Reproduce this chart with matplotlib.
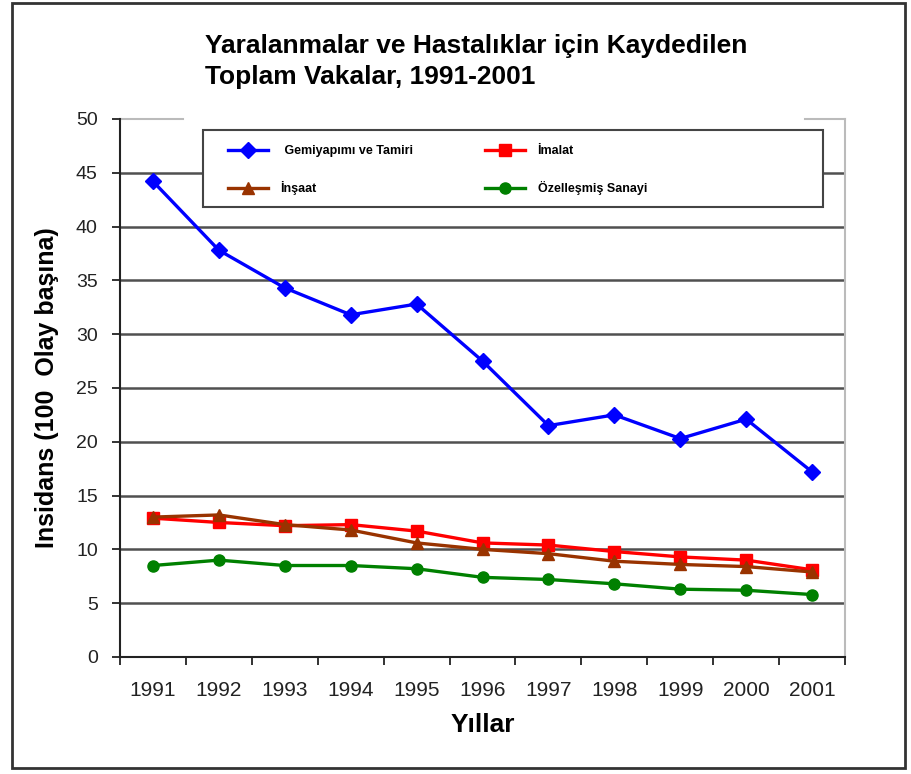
import numpy as np
import matplotlib
matplotlib.use("Agg")
import matplotlib.pyplot as plt
from matplotlib.patches import Rectangle

plt.rcParams['font.family'] = ['Liberation Sans', 'DejaVu Sans']

years = ['1991', '1992', '1993', '1994', '1995', '1996', '1997', '1998', '1999', '2000', '2001']
gemi = [44.2, 37.8, 34.3, 31.8, 32.8, 27.5, 21.5, 22.5, 20.3, 22.1, 17.2]
imalat = [12.9, 12.5, 12.2, 12.3, 11.7, 10.6, 10.4, 9.8, 9.3, 9.0, 8.1]
insaat = [13.0, 13.2, 12.3, 11.8, 10.6, 10.0, 9.6, 8.9, 8.6, 8.4, 7.9]
ozel = [8.5, 9.0, 8.5, 8.5, 8.2, 7.4, 7.2, 6.8, 6.3, 6.2, 5.8]
yticks = [0, 5, 10, 15, 20, 25, 30, 35, 40, 45, 50]

fig = plt.figure(figsize=(9.12, 7.74), dpi=100)
ax = fig.add_axes([0.1316, 0.1512, 0.795, 0.6951])

x = np.arange(len(years))

# grid lines (dark, not at 0 and 50)
ax.hlines(yticks[1:-1], -0.5, len(years) - 0.5, colors='#505050', linewidth=1.8, zorder=1)

l1, = ax.plot(x, gemi, color='#0000FF', marker='D', markersize=8, linewidth=2.4, zorder=3,
              label=' Gemiyapımı ve Tamiri')
l2, = ax.plot(x, imalat, color='#FF0000', marker='s', markersize=8, linewidth=2.4, zorder=3,
              label='İmalat')
l3, = ax.plot(x, insaat, color='#993300', marker='^', markersize=9, linewidth=2.4, zorder=3,
              label='İnşaat')
l4, = ax.plot(x, ozel, color='#008000', marker='o', markersize=8, linewidth=2.4, zorder=3,
              label='Özelleşmiş Sanayi')

ax.set_xlim(-0.5, len(years) - 0.5)
ax.set_ylim(0, 50)
ax.set_yticks(yticks)
ax.tick_params(axis='y', direction='out', length=6, width=1.3, pad=10, labelsize=14, colors='#222222')

ax.set_xticks(np.arange(-0.5, len(years), 1))
ax.set_xticklabels([])
ax.set_xticks(x, minor=True)
ax.set_xticklabels(years, minor=True)
ax.tick_params(axis='x', which='major', direction='out', length=6, width=1.3, colors='#222222')
ax.tick_params(axis='x', which='minor', length=0, pad=17, labelsize=15, colors='#222222')

for s in ['left', 'bottom']:
    ax.spines[s].set_color('#222222')
    ax.spines[s].set_linewidth(1.5)
ax.spines['right'].set_color('#BBBBBB')
ax.spines['right'].set_linewidth(1.5)
ax.spines['top'].set_visible(False)
ax.axhline(50, xmin=0, xmax=0.087, color='#BBBBBB', linewidth=1.5, clip_on=False)
ax.axhline(50, xmin=0.945, xmax=1, color='#BBBBBB', linewidth=1.5, clip_on=False)

ax.set_ylabel('Insidans (100  Olay başına)', fontsize=18, fontweight='bold', labelpad=12)
ax.set_xlabel('Yıllar', fontsize=19, fontweight='bold', labelpad=10)

# legend box
ax.add_patch(Rectangle((0.1145, 0.8364), 0.8552, 0.1432, transform=ax.transAxes,
                       facecolor='white', edgecolor='#444444', linewidth=1.5, zorder=4))
leg = ax.legend(handles=[l1, l3, l2, l4], ncol=2, loc='upper left',
                bbox_to_anchor=(0.149, 0.951),
                prop={'weight': 'bold', 'size': 9},
                frameon=False, handlelength=3.2, handletextpad=1.0,
                columnspacing=5.8, labelspacing=1.9, borderpad=0, borderaxespad=0)
leg.set_zorder(5)

fig.text(0.2248, 0.956, 'Yaralanmalar ve Hastalıklar için Kaydedilen\nToplam Vakalar, 1991-2001',
         fontsize=19, fontweight='bold', ha='left', va='top', linespacing=1.35)

fig.patches.append(Rectangle((0.013, 0.008), 0.979, 0.988, transform=fig.transFigure,
                             fill=False, edgecolor='#333333', linewidth=2))

fig.savefig('out.png', dpi=100)
